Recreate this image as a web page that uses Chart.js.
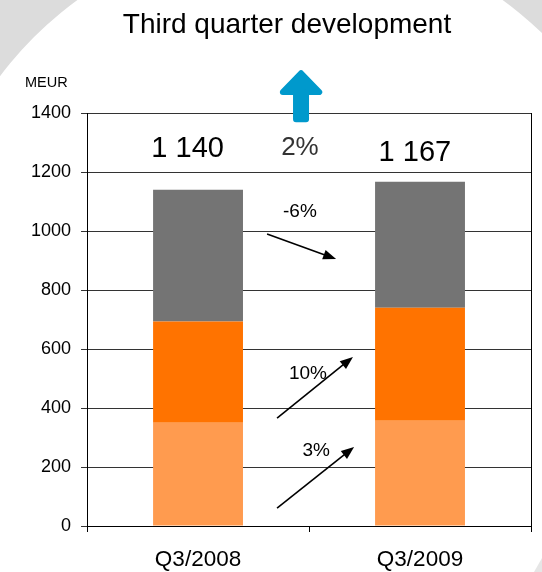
<!DOCTYPE html>
<html>
<head>
<meta charset="utf-8">
<script src="https://cdn.jsdelivr.net/npm/chart.js@4.4.1/dist/chart.umd.min.js"></script>
<style>
  html, body { margin: 0; padding: 0; background: #fff; }
  #wrap { width: 542px; height: 572px; }
</style>
</head>
<body>
<div id="wrap"><canvas id="mycanvas" width="542" height="572"></canvas></div>
<script>
// quarterly figures, MEUR
var quarters = ['Q3/2008', 'Q3/2009'];
var lowerPart = [350, 357];
var middlePart = [343, 383];
var upperPart = [447, 427];
var yTicks = [0, 200, 400, 600, 800, 1000, 1200, 1400];

// change labels between the two quarters
var totalChange = '2%';
var partChanges = ['-6%', '10%', '3%'];

var FONT = 'Arial, "Liberation Sans", sans-serif';

var totals = quarters.map(function(q, i) {
    return lowerPart[i] + middlePart[i] + upperPart[i];
});

function spaced(n) {
    return String(n).replace(/\B(?=(\d{3})+(?!\d))/g, ' ');
}

// x given as a fraction between the two category centres
function xAt(chart, f) {
    var x0 = chart.scales.x.getPixelForValue(0);
    var x1 = chart.scales.x.getPixelForValue(1);
    return x0 + f * (x1 - x0);
}
function yAt(chart, v) {
    return chart.scales.y.getPixelForValue(v);
}

function arrow(ctx, x1, y1, x2, y2) {
    var a = Math.atan2(y2 - y1, x2 - x1);
    var len = 13, w = 5;
    ctx.strokeStyle = '#000';
    ctx.fillStyle = '#000';
    ctx.lineWidth = 1.6;
    ctx.beginPath();
    ctx.moveTo(x1, y1);
    ctx.lineTo(x2 - Math.cos(a) * len * 0.8, y2 - Math.sin(a) * len * 0.8);
    ctx.stroke();
    ctx.beginPath();
    ctx.moveTo(x2, y2);
    ctx.lineTo(x2 - Math.cos(a) * len - Math.sin(a) * w, y2 - Math.sin(a) * len + Math.cos(a) * w);
    ctx.lineTo(x2 - Math.cos(a) * len + Math.sin(a) * w, y2 - Math.sin(a) * len - Math.cos(a) * w);
    ctx.closePath();
    ctx.fill();
}

var backdrop = {
    id: 'backdrop',
    beforeDraw: function(chart) {
        var ctx = chart.ctx;
        var w = chart.width, h = chart.height;
        ctx.save();
        ctx.fillStyle = '#fff';
        ctx.fillRect(0, 0, w, h);
        // grey corners outside the big round panel
        ctx.beginPath();
        ctx.rect(0, 0, w, 200);
        ctx.clip();
        ctx.beginPath();
        ctx.rect(0, 0, w, h);
        ctx.arc(290, 293, 362, 0, Math.PI * 2);
        ctx.fillStyle = '#dcdcdc';
        ctx.fill('evenodd');
        ctx.restore();
        ctx.save();
        ctx.fillStyle = '#e6e6e6';
        ctx.beginPath();
        ctx.moveTo(w, h - 14);
        ctx.lineTo(w, h);
        ctx.lineTo(w - 8, h);
        ctx.closePath();
        ctx.fill();
        ctx.restore();
    },
    beforeDatasetsDraw: function(chart) {
        // right frame line
        var ctx = chart.ctx, a = chart.chartArea;
        ctx.save();
        ctx.strokeStyle = '#000';
        ctx.lineWidth = 1;
        ctx.beginPath();
        ctx.moveTo(Math.round(a.right) + 0.5, a.top);
        ctx.lineTo(Math.round(a.right) + 0.5, a.bottom + 6);
        ctx.stroke();
        ctx.restore();
    }
};

var notes = {
    id: 'notes',
    afterDraw: function(chart) {
        var ctx = chart.ctx, a = chart.chartArea;
        ctx.save();
        ctx.fillStyle = '#000';
        ctx.textBaseline = 'alphabetic';

        ctx.font = '28px ' + FONT;
        ctx.textAlign = 'center';
        ctx.fillText('Third quarter development', 287, 33);

        ctx.font = '14.5px ' + FONT;
        ctx.textAlign = 'left';
        ctx.fillText('MEUR', a.left - 62, a.top - 26);

        // blue up arrow
        var cx = xAt(chart, 0.464);
        var tip = yAt(chart, 1549), base = yAt(chart, 1461), foot = yAt(chart, 1369);
        var r = 3;
        ctx.fillStyle = '#0099cc';
        ctx.strokeStyle = '#0099cc';
        ctx.lineWidth = r * 2;
        ctx.lineJoin = 'round';
        ctx.beginPath();
        ctx.moveTo(cx, tip + r * 1.4);
        ctx.lineTo(cx + 23 - r * 1.6, base - r);
        ctx.lineTo(cx + 8 - r, base - r);
        ctx.lineTo(cx + 8 - r, foot - r);
        ctx.lineTo(cx - 8 + r, foot - r);
        ctx.lineTo(cx - 8 + r, base - r);
        ctx.lineTo(cx - 23 + r * 1.6, base - r);
        ctx.closePath();
        ctx.fill();
        ctx.stroke();

        // totals above the bars
        ctx.fillStyle = '#000';
        ctx.textAlign = 'center';
        ctx.font = '29px ' + FONT;
        ctx.fillText(spaced(totals[0]), xAt(chart, -0.047), yAt(chart, 1251));
        ctx.fillText(spaced(totals[1]), xAt(chart, 0.977), yAt(chart, 1237));
        ctx.font = '26px ' + FONT;
        ctx.fillStyle = '#333';
        ctx.fillText(totalChange, xAt(chart, 0.459), yAt(chart, 1258));

        // part changes
        ctx.fillStyle = '#000';
        ctx.font = '19px ' + FONT;
        ctx.fillText(partChanges[0], xAt(chart, 0.459), yAt(chart, 1047));
        ctx.fillText(partChanges[1], xAt(chart, 0.495), yAt(chart, 498));
        ctx.fillText(partChanges[2], xAt(chart, 0.532), yAt(chart, 237));

        arrow(ctx, xAt(chart, 0.311), yAt(chart, 990), xAt(chart, 0.622), yAt(chart, 905));
        arrow(ctx, xAt(chart, 0.356), yAt(chart, 366), xAt(chart, 0.698), yAt(chart, 573));
        arrow(ctx, xAt(chart, 0.356), yAt(chart, 61), xAt(chart, 0.703), yAt(chart, 268));
        ctx.restore();
    }
};

var chartdata = {
    labels: quarters,
    datasets: [
        { label: 'lower', data: lowerPart, backgroundColor: '#ff9b4f', borderWidth: 0 },
        { label: 'middle', data: middlePart, backgroundColor: '#ff7300', borderWidth: 0 },
        { label: 'upper', data: upperPart, backgroundColor: '#747474', borderWidth: 0 }
    ]
};

var ctx = document.getElementById('mycanvas');

var barGraph = new Chart(ctx, {
    type: 'bar',
    data: chartdata,
    options: {
        responsive: false,
        animation: false,
        events: [],
        layout: { padding: { left: 21, right: 11, top: 113, bottom: 0 } },
        datasets: { bar: { categoryPercentage: 1, barPercentage: 0.405 } },
        plugins: {
            legend: { display: false },
            tooltip: { enabled: false }
        },
        scales: {
            x: {
                stacked: true,
                afterFit: function(scale) { scale.height = 46; },
                grid: { drawOnChartArea: false, tickLength: 6, color: '#000', offset: true },
                border: { color: '#000' },
                ticks: { color: '#000', padding: 14, font: { family: FONT, size: 22.5 } }
            },
            y: {
                stacked: true,
                min: 0,
                max: 1400,
                afterBuildTicks: function(scale) {
                    scale.ticks = yTicks.map(function(v) { return { value: v }; });
                },
                grid: { color: '#333', tickLength: 6 },
                border: { color: '#000' },
                ticks: {
                    color: '#000',
                    padding: 10,
                    font: { family: FONT, size: 18 },
                    callback: function(v) { return String(v); }
                }
            }
        }
    },
    plugins: [backdrop, notes]
});
</script>
</body>
</html>
